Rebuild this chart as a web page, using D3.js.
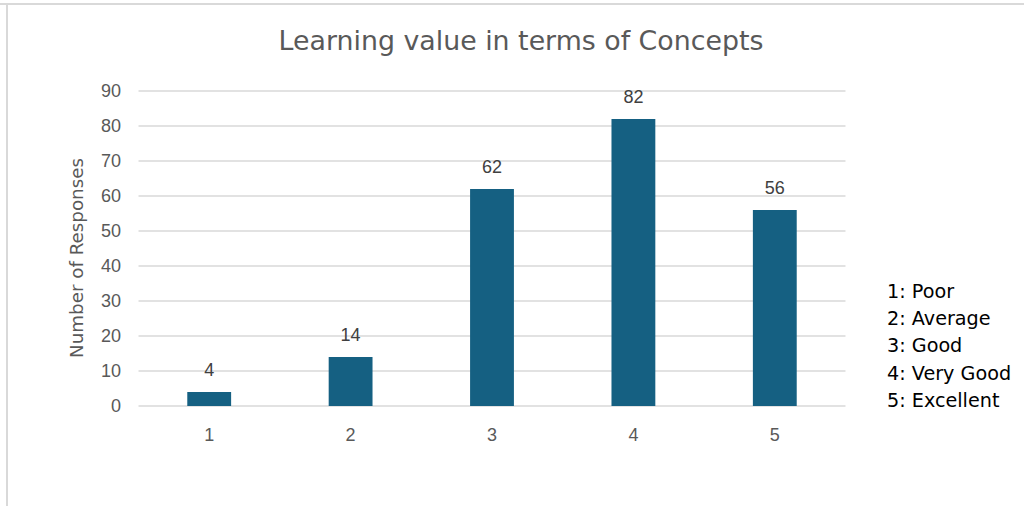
<!DOCTYPE html>
<html>
<head>
<meta charset="utf-8">
<script src="https://cdn.jsdelivr.net/npm/d3@7"></script>
<style>
  body { margin: 0; background: #fff; }
  svg { display: block; }
</style>
</head>
<body>
<script>
var width = 1024,
    height = 506;

// chart data
var categories = ["1", "2", "3", "4", "5"];
var responses = [4, 14, 62, 82, 56];
var yTicks = [0, 10, 20, 30, 40, 50, 60, 70, 80, 90];
var legendItems = ["1: Poor", "2: Average", "3: Good", "4: Very Good", "5: Excellent"];

var sans = "'Liberation Sans', Arial, sans-serif";
var wide = "'DejaVu Sans', 'Open Sans', sans-serif";

var svg = d3.select("body").append("svg")
    .attr("width", width)
    .attr("height", height);

// outer frame (left + top edges visible)
svg.append("line")
    .attr("x1", 0).attr("x2", width)
    .attr("y1", 4).attr("y2", 4)
    .style("stroke", "#d9d9d9").style("stroke-width", 2);
svg.append("line")
    .attr("x1", 7).attr("x2", 7)
    .attr("y1", 4).attr("y2", height)
    .style("stroke", "#d9d9d9").style("stroke-width", 2);

var x = d3.scaleBand()
    .domain(categories)
    .range([138.5, 845.5])
    .paddingInner(0.69)
    .paddingOuter(0.345);

var y = d3.scaleLinear()
    .domain([0, 90])
    .range([406, 91]);

// gridlines
svg.selectAll(".grid")
    .data(yTicks)
    .enter().append("line")
    .attr("class", "grid")
    .attr("x1", 138.5).attr("x2", 845.5)
    .attr("y1", function(d) { return y(d); })
    .attr("y2", function(d) { return y(d); })
    .style("stroke", "#d9d9d9")
    .style("stroke-width", 1.5);

// y tick labels
svg.selectAll(".ytick")
    .data(yTicks)
    .enter().append("text")
    .attr("class", "ytick")
    .attr("x", 121)
    .attr("y", function(d) { return y(d); })
    .attr("dy", "0.35em")
    .attr("text-anchor", "end")
    .style("font-family", sans)
    .style("font-size", "18px")
    .style("fill", "#595959")
    .text(function(d) { return d; });

// x tick labels
svg.selectAll(".xtick")
    .data(categories)
    .enter().append("text")
    .attr("class", "xtick")
    .attr("x", function(d) { return x(d) + x.bandwidth() / 2; })
    .attr("y", 435)
    .attr("dy", "0.35em")
    .attr("text-anchor", "middle")
    .style("font-family", sans)
    .style("font-size", "18px")
    .style("fill", "#595959")
    .text(function(d) { return d; });

// bars
svg.selectAll(".bar")
    .data(responses)
    .enter().append("rect")
    .attr("class", "bar")
    .attr("x", function(d, i) { return x(categories[i]); })
    .attr("y", function(d) { return y(d); })
    .attr("width", x.bandwidth())
    .attr("height", function(d) { return y(0) - y(d); })
    .style("fill", "#156082");

// data labels
svg.selectAll(".label")
    .data(responses)
    .enter().append("text")
    .attr("class", "label")
    .attr("x", function(d, i) { return x(categories[i]) + x.bandwidth() / 2; })
    .attr("y", function(d) { return y(d) - 22; })
    .attr("dy", "0.35em")
    .attr("text-anchor", "middle")
    .style("font-family", sans)
    .style("font-size", "18px")
    .style("fill", "#404040")
    .text(function(d) { return d; });

// title
svg.append("text")
    .attr("x", 521)
    .attr("y", 41)
    .attr("dy", "0.35em")
    .attr("text-anchor", "middle")
    .style("font-family", wide)
    .style("font-size", "26.8px")
    .style("fill", "#595959")
    .text("Learning value in terms of Concepts");

// y axis title
svg.append("text")
    .attr("transform", "translate(77,258) rotate(-90)")
    .attr("dy", "0.35em")
    .attr("text-anchor", "middle")
    .style("font-family", wide)
    .style("font-size", "18.3px")
    .style("fill", "#595959")
    .text("Number of Responses");

// legend text
svg.selectAll(".legend")
    .data(legendItems)
    .enter().append("text")
    .attr("class", "legend")
    .attr("x", 887)
    .attr("y", function(d, i) { return 291 + i * 27.3; })
    .attr("dy", "0.35em")
    .style("font-family", wide)
    .style("font-size", "19.2px")
    .style("fill", "#000")
    .text(function(d) { return d; });
</script>
</body>
</html>
